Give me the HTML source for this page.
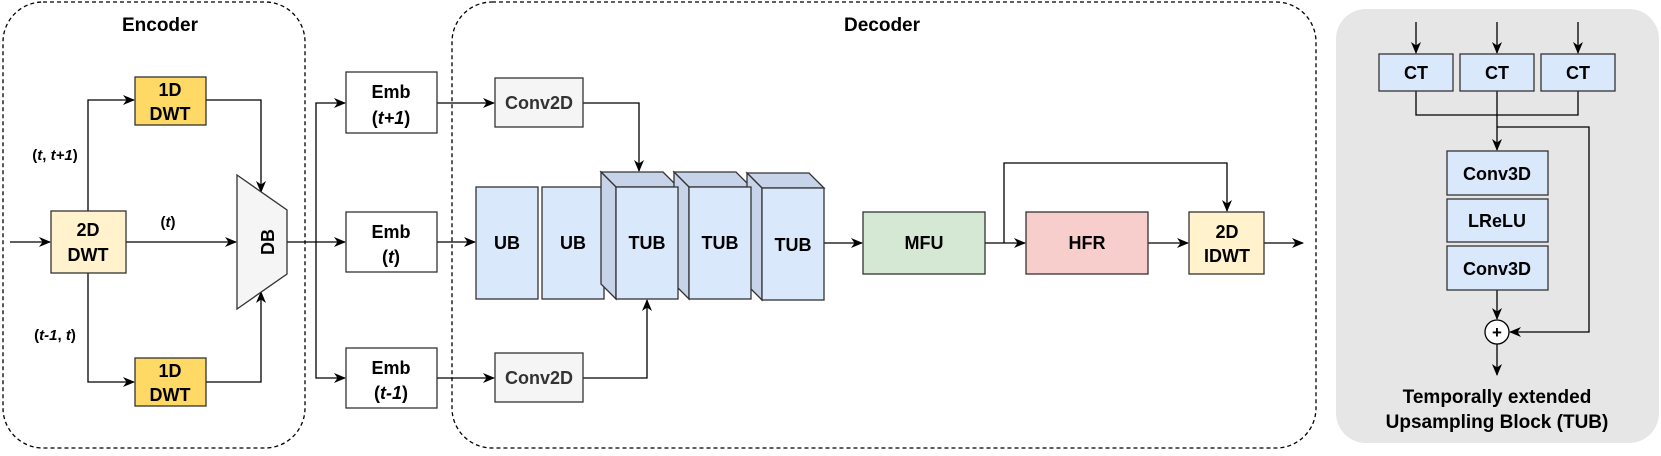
<!DOCTYPE html>
<html><head><meta charset="utf-8"><style>
html,body{margin:0;padding:0;background:#fff;}
svg{display:block;}
text{font-family:"Liberation Sans",Arial,sans-serif;font-weight:bold;fill:#000;}
</style></head><body>
<svg width="1661" height="456" viewBox="0 0 1661 456" xmlns="http://www.w3.org/2000/svg">
<defs>
<marker id="a" markerWidth="12" markerHeight="12" refX="11" refY="6" orient="auto" markerUnits="userSpaceOnUse">
<path d="M0,1 L12,6 L0,11 L3.5,6 Z" fill="#000"/>
</marker>
</defs>
<g stroke="#000" stroke-width="1.3" fill="none">
<rect x="3" y="2" width="302" height="446" rx="40" stroke-dasharray="4,3"/>
<rect x="452" y="2" width="864" height="446" rx="40" stroke-dasharray="4,3"/>
</g>
<rect x="1336" y="9" width="323" height="434" rx="30" fill="#e6e6e6"/>
<text x="160" y="31" font-size="19" text-anchor="middle">Encoder</text>
<text x="882" y="31" font-size="19" text-anchor="middle">Decoder</text>

<g stroke="#000" stroke-width="1.3" fill="none">
<path d="M10,242 H50" marker-end="url(#a)"/>
<path d="M88,211 V100 H134" marker-end="url(#a)"/>
<path d="M88,273 V382 H134" marker-end="url(#a)"/>
<path d="M126,242 H236" marker-end="url(#a)"/>
<path d="M206,100 H261 V192" marker-end="url(#a)"/>
<path d="M206,382 H261 V292" marker-end="url(#a)"/>
<path d="M287,242 H345" marker-end="url(#a)"/>
<path d="M316,242 V103 H345" marker-end="url(#a)"/>
<path d="M316,242 V378 H345" marker-end="url(#a)"/>
<path d="M437,103 H494" marker-end="url(#a)"/>
<path d="M437,378 H494" marker-end="url(#a)"/>
<path d="M437,242 H475" marker-end="url(#a)"/>
<path d="M583,103 H639 V171" marker-end="url(#a)"/>
<path d="M583,378 H647 V300" marker-end="url(#a)"/>
<path d="M824,243 H862" marker-end="url(#a)"/>
<path d="M985,243 H1025" marker-end="url(#a)"/>
<path d="M1004,243 V163 H1227 V211" marker-end="url(#a)"/>
<path d="M1148,243 H1188" marker-end="url(#a)"/>
<path d="M1264,243 H1303" marker-end="url(#a)"/>
<path d="M1416,22 V53" marker-end="url(#a)"/>
<path d="M1497,22 V53" marker-end="url(#a)"/>
<path d="M1578,22 V53" marker-end="url(#a)"/>
<path d="M1416,91 V115 H1578 V91"/>
<path d="M1497,91 V150" marker-end="url(#a)"/>
<path d="M1497,127 H1589 V332 H1510" marker-end="url(#a)"/>
<path d="M1497,290 V319" marker-end="url(#a)"/>
<path d="M1497,344 V375" marker-end="url(#a)"/>
</g>

<g stroke="#333" stroke-width="1.3">
<rect x="135" y="77" width="71" height="48" fill="#ffd966"/>
<rect x="135" y="358" width="71" height="48" fill="#ffd966"/>
<rect x="51" y="211" width="75" height="62" fill="#fff2cc"/>
<polygon points="237,175 287,210 287,274 237,309" fill="#f5f5f5"/>
<rect x="346" y="72" width="91" height="61" fill="#fff"/>
<rect x="346" y="212" width="91" height="60" fill="#fff"/>
<rect x="346" y="348" width="91" height="60" fill="#fff"/>
<rect x="495" y="78" width="88" height="49" fill="#f5f5f5"/>
<rect x="495" y="353" width="88" height="49" fill="#f5f5f5"/>
<rect x="476" y="187" width="62" height="112" fill="#dae8fc"/>
<rect x="542" y="187" width="62" height="112" fill="#dae8fc"/>
<g fill="#c6d3e8">
<polygon points="601,172 663,172 678,187 616,187"/>
<polygon points="601,172 616,187 616,299 601,284"/>
<polygon points="674,172 736,172 751,187 689,187"/>
<polygon points="674,172 689,187 689,299 674,284"/>
<polygon points="747,173 809,173 824,188 762,188"/>
<polygon points="747,173 762,188 762,300 747,285"/>
</g>
<rect x="616" y="187" width="62" height="112" fill="#dae8fc"/>
<rect x="689" y="187" width="62" height="112" fill="#dae8fc"/>
<rect x="762" y="188" width="62" height="112" fill="#dae8fc"/>
<rect x="863" y="212" width="122" height="62" fill="#d5e8d4"/>
<rect x="1026" y="212" width="122" height="62" fill="#f8cecc"/>
<rect x="1189" y="212" width="75" height="62" fill="#fff2cc"/>
<rect x="1379" y="54" width="74" height="37" fill="#dae8fc"/>
<rect x="1460" y="54" width="74" height="37" fill="#dae8fc"/>
<rect x="1541" y="54" width="74" height="37" fill="#dae8fc"/>
<rect x="1447" y="151" width="101" height="44" fill="#dae8fc"/>
<rect x="1447" y="199" width="101" height="43" fill="#dae8fc"/>
<rect x="1447" y="246" width="101" height="44" fill="#dae8fc"/>
</g>
<circle cx="1497" cy="332" r="12" fill="#fff" stroke="#000" stroke-width="1.3"/>
<text x="1497" y="338" font-size="17" text-anchor="middle">+</text>

<g font-size="18" text-anchor="middle">
<text x="170" y="96">1D</text><text x="170" y="120">DWT</text>
<text x="170" y="377">1D</text><text x="170" y="401">DWT</text>
<text x="88" y="236">2D</text><text x="88" y="261">DWT</text>
<text transform="translate(268,242) rotate(-90)" y="6">DB</text>
<text x="391" y="98">Emb</text><text x="391" y="124">(<tspan font-style="italic">t+1</tspan>)</text>
<text x="391" y="238">Emb</text><text x="391" y="263">(<tspan font-style="italic">t</tspan>)</text>
<text x="391" y="374">Emb</text><text x="391" y="399">(<tspan font-style="italic">t-1</tspan>)</text>
<text x="539" y="109" style="fill:#333">Conv2D</text>
<text x="539" y="384" style="fill:#333">Conv2D</text>
<text x="507" y="249">UB</text>
<text x="573" y="249">UB</text>
<text x="647" y="249">TUB</text>
<text x="720" y="249">TUB</text>
<text x="793" y="251">TUB</text>
<text x="924" y="249">MFU</text>
<text x="1087" y="249">HFR</text>
<text x="1227" y="238">2D</text><text x="1227" y="262">IDWT</text>
<text x="1416" y="79">CT</text><text x="1497" y="79">CT</text><text x="1578" y="79">CT</text>
<text x="1497" y="180">Conv3D</text>
<text x="1497" y="227">LReLU</text>
<text x="1497" y="275">Conv3D</text>
</g>
<g font-size="15" text-anchor="middle">
<text x="55" y="160">(<tspan font-style="italic">t</tspan>, <tspan font-style="italic">t+1</tspan>)</text>
<text x="168" y="227">(<tspan font-style="italic">t</tspan>)</text>
<text x="55" y="340">(<tspan font-style="italic">t-1</tspan>, <tspan font-style="italic">t</tspan>)</text>
</g>
<g font-size="19" text-anchor="middle">
<text x="1497" y="403">Temporally extended</text>
<text x="1497" y="428">Upsampling Block (TUB)</text>
</g>
</svg>
</body></html>
